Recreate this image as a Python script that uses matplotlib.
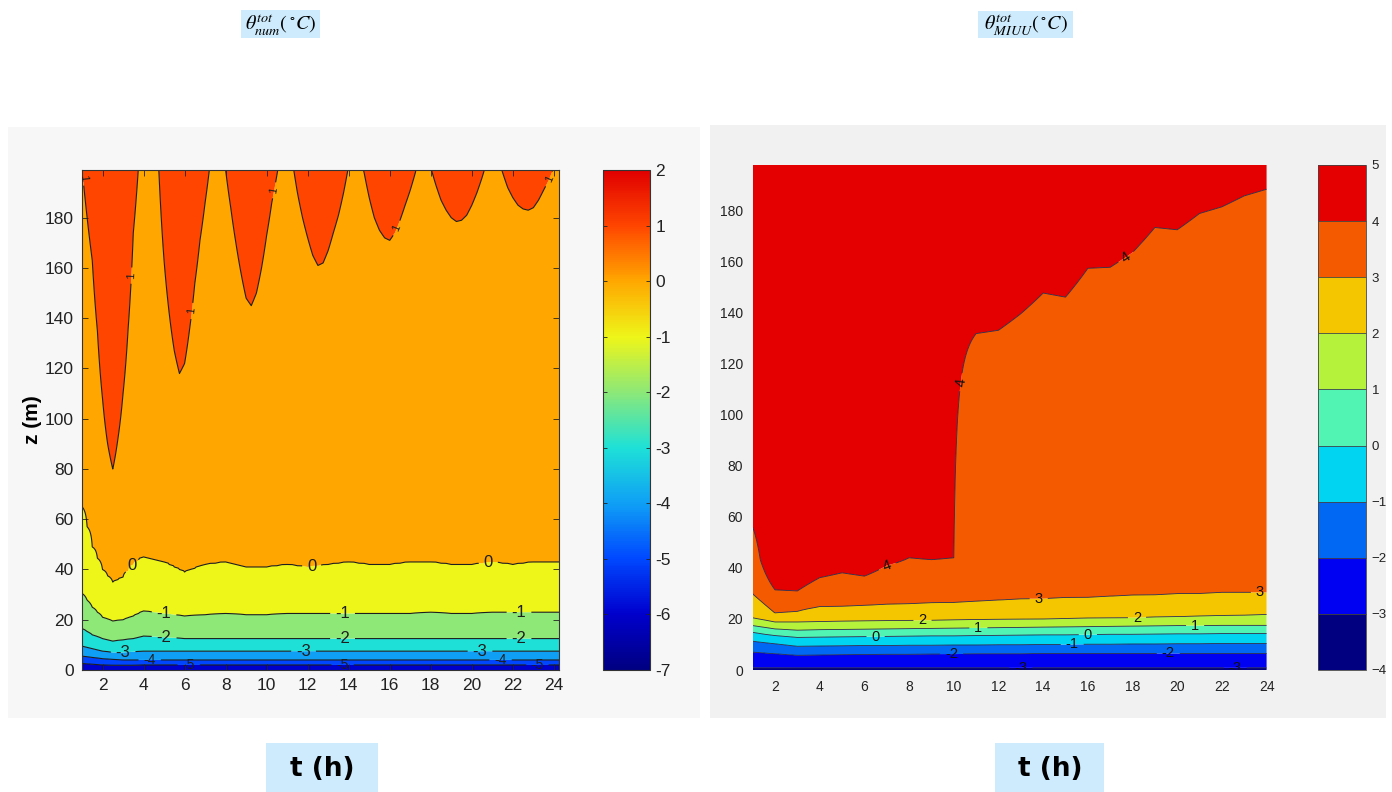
import numpy as np
import matplotlib
matplotlib.use('Agg')
import matplotlib.pyplot as plt
from matplotlib.colors import LinearSegmentedColormap, Normalize, BoundaryNorm, ListedColormap
from matplotlib.patches import Rectangle
import matplotlib.cm as cm

# ---------------- data: left panel (numerical model) ----------------
# height (m) of the +1 degC isotherm, every 0.25 h from t = 1 h (values > 199 lie above the plot)
num_z_p1 = [200, 180, 163, 135, 108, 90, 80, 92, 110, 136, 174, 200,
            225, 235, 225, 198, 163, 142, 127, 118, 122, 136, 154, 171,
            186, 202, 220, 215, 199, 184, 170, 158, 148, 145, 150, 160,
            173, 186, 197, 210, 215, 203, 190, 180, 172, 165, 161, 162,
            167, 174, 181, 190, 201, 212, 206, 198, 188, 180, 175, 172,
            171, 174, 179, 185, 191, 198, 208, 210, 200, 193, 187, 183,
            180, 178.5, 179, 181, 185, 190, 196, 203, 210, 205, 198, 192,
            188, 185, 183.5, 183, 184, 187, 191, 195, 200, 205]
# times (h) at which the lower isotherms were read
num_t = [1, 1.5, 2, 2.5, 3, 3.5, 4, 5, 6, 7, 8, 9, 10, 11, 12, 13, 14, 15,
         16, 17, 18, 19, 20, 21, 22, 23, 24]
num_z_0 = [65, 49, 40, 35, 37, 42, 45, 43, 39, 42, 43, 41, 41, 42, 41, 42, 43,
           42, 42, 43, 43, 42, 42, 43, 42, 43, 43]
num_z_m1 = [30.5, 25, 21, 19.5, 20, 21.5, 23.5, 22.5, 21.5, 22, 22.5, 22, 22,
            22.5, 22.5, 22.5, 22.5, 22.5, 22.5, 22.5, 23, 22.5, 22.5, 23, 23, 23, 23]
num_z_m2 = [16.5, 14, 12.5, 11.5, 12, 12.5, 13.5, 13, 12.5, 12.5, 12.5, 12.5,
            12.5, 12.5, 12.5, 12.5, 12.5, 12.5, 12.5, 12.5, 12.5, 12.5, 12.5,
            12.5, 12.5, 12.5, 12.5]
num_z_m3 = [9.5, 8.5, 7.5, 7, 7, 7.2, 7.5, 7.5, 7.5, 7.5, 7.5, 7.5, 7.5, 7.5,
            7.5, 7.5, 7.5, 7.5, 7.5, 7.5, 7.5, 7.5, 7.5, 7.5, 7.5, 7.5, 7.5]
num_z_m4 = [5.5, 5, 4.5, 4.2, 4, 4, 4, 4, 4, 4, 4, 4, 4, 4, 4, 4, 4, 4, 4, 4,
            4, 4, 4, 4, 4, 4, 4]
num_z_m5 = [2.6, 2.3, 2, 1.9, 1.9, 1.9, 2, 2, 2, 2, 2, 2, 2, 2, 2, 2, 2, 2, 2,
            2, 2, 2, 2, 2, 2, 2, 2]
num_bottom = -5.8
num_levels = [-7, -6, -5, -4, -3, -2, -1, 0, 1, 2]
num_cb_ticks = [2, 1, 0, -1, -2, -3, -4, -5, -6, -7]

# ---------------- data: right panel (MIUU model), hourly ----------------
miuu_t = list(range(1, 25))
miuu_z4 = [56, 31.4, 31, 36.2, 38.1, 36.8, 41, 44, 43.3, 44, 131.9, 133.2,
           139.7, 147.8, 146.2, 157.5, 157.9, 163.7, 173.5, 172.6, 179, 181.6,
           185.9, 188.5]
miuu_rise = [0.08, 0.08, 0.08, 0.08, 0.08, 0.08, 0.08, 0.08, 0.08, 0.0012,
             0.0095, 0.0094, 0.0089, 0.0083, 0.0085, 0.0078, 0.0077, 0.0074,
             0.0069, 0.0070, 0.0067, 0.0066, 0.0064, 0.0063]
miuu_z3 = [29.8, 22.3, 23, 24.8, 25, 25.3, 25.7, 26, 26.3, 26.5, 26.9, 27.2,
           27.6, 27.9, 28.2, 28.5, 28.8, 29.1, 29.4, 29.7, 30, 30.2, 30.2, 30.2]
miuu_z2 = [20.4, 18.8, 18.8, 19, 19.1, 19.2, 19.3, 19.4, 19.5, 19.6, 19.7,
           19.8, 19.9, 20, 20.1, 20.3, 20.4, 20.5, 20.7, 20.9, 21.1, 21.3,
           21.5, 21.7]
miuu_z1 = [17.4, 16.1, 15.6, 15.8, 15.9, 16, 16.1, 16.2, 16.3, 16.4, 16.5,
           16.6, 16.7, 16.8, 16.9, 17, 17.1, 17.2, 17.3, 17.4, 17.4, 17.5,
           17.5, 17.5]
miuu_z0 = [14.8, 13.5, 12.8, 12.9, 13, 13.1, 13.2, 13.3, 13.4, 13.4, 13.5,
           13.6, 13.7, 13.8, 13.8, 13.9, 14, 14, 14.1, 14.2, 14.2, 14.3, 14.3, 14.3]
miuu_zm1 = [11.3, 10.3, 9.3, 9.4, 9.5, 9.6, 9.6, 9.7, 9.7, 9.8, 9.8, 9.9,
            9.9, 10, 10, 10.1, 10.1, 10.2, 10.2, 10.3, 10.3, 10.4, 10.4, 10.4]
miuu_zm2 = [7, 6.4, 5.8, 5.9, 6, 6.1, 6.2, 6.2, 6.3, 6.3, 6.4, 6.4, 6.4, 6.5,
            6.5, 6.5, 6.5, 6.5, 6.5, 6.5, 6.5, 6.5, 6.5, 6.5]
miuu_zm3 = [0.8, 0.8, 0.8, 0.8, 0.8, 0.8, 0.8, 0.8, 0.8, 0.8, 0.8, 0.8, 0.8,
            0.8, 0.8, 0.8, 0.8, 0.8, 0.8, 0.8, 0.8, 0.8, 0.8, 0.8]
miuu_bottom = -3.2
miuu_levels = [-4, -3, -2, -1, 0, 1, 2, 3, 4, 5]
miuu_colors = ['#000080', '#0000F2', '#0068F2', '#00D4F0', '#52F4B4',
               '#B4F23C', '#F4C600', '#F45A00', '#E40000']

# ---------------- figure ----------------
W, H = 1392, 792
plt.rcParams['font.family'] = ['Liberation Sans', 'DejaVu Sans']
plt.rcParams['mathtext.fontset'] = 'stix'
fig = plt.figure(figsize=(W / 100, H / 100), dpi=100)
fig.patch.set_facecolor('white')


def box(x0, y0, x1, y1):
    return [x0 / W, 1 - y1 / H, (x1 - x0) / W, (y1 - y0) / H]


def rect(x0, y0, x1, y1, color, z=-10):
    b = box(x0, y0, x1, y1)
    fig.add_artist(Rectangle((b[0], b[1]), b[2], b[3], transform=fig.transFigure,
                             facecolor=color, edgecolor='none', zorder=z))


rect(8, 127, 700, 718, '#F7F7F7')
rect(710, 125, 1386, 718, '#F1F1F1')

# ---- left colormap (continuous, jet-like as in the picture)
anchor_vals = [-7, -6, -5, -4, -3, -2, -1, 0, 1, 2]
anchor_cols = [(0, 0, 130), (0, 0, 205), (0, 72, 255), (15, 160, 245),
               (30, 225, 215), (140, 232, 120), (238, 245, 25), (255, 168, 0),
               (255, 70, 0), (225, 0, 0)]
cmap_num = LinearSegmentedColormap.from_list(
    'numjet', [((v + 7) / 9, tuple(c / 255 for c in col)) for v, col in zip(anchor_vals, anchor_cols)])
norm_num = Normalize(-7, 2)

# ---- left field
t_fine = 1 + 0.25 * np.arange(len(num_z_p1))
z_l = np.linspace(0, 199, 399)
F = np.empty((len(z_l), len(t_fine)))
for j, t in enumerate(t_fine):
    zs = [0] + [float(np.interp(t, num_t, a)) for a in
                (num_z_m5, num_z_m4, num_z_m3, num_z_m2, num_z_m1, num_z_0)] + [num_z_p1[j]]
    vs = [num_bottom, -5, -4, -3, -2, -1, 0, 1]
    slope = 1.0 / (zs[-1] - zs[-2])
    zs.append(zs[-1] + 400)
    vs.append(1 + 400 * slope)
    F[:, j] = np.clip(np.interp(z_l, zs, vs), None, 1.95)
T, Z = np.meshgrid(t_fine, z_l)

axL = fig.add_axes(box(82, 170, 559, 670))
band_cols = [cmap_num(norm_num(l)) for l in num_levels[:-1]]
axL.contourf(T, Z, F, levels=num_levels, colors=band_cols, antialiased=True)
lab_num = {
    0: ([(3.4, 42), (12.2, 41), (20.8, 43)], 12, True),
    -1: ([(5.0, 22.5), (13.7, 22.5), (22.3, 22.5)], 12, True),
    -2: ([(5.0, 12.5), (13.7, 12.5), (22.3, 12.5)], 12, True),
    -3: ([(3.0, 7.5), (11.8, 7.5), (20.4, 7.5)], 12, True),
    -4: ([(4.3, 4), (21.4, 4)], 10, True),
    -5: ([(6.2, 2), (13.7, 2), (23.2, 2)], 10, True),
    1: ([(1.05, 196), (3.35, 157), (6.25, 143), (10.3, 191), (16.3, 176),
         (23.6, 196)], 8, False),
}
for lv, (pos, fsz, upright) in lab_num.items():
    cs = axL.contour(T, Z, F, levels=[lv], colors='#1e1e1e', linewidths=0.8,
                     linestyles='solid')
    try:
        txts = axL.clabel(cs, manual=pos, inline=True, fontsize=fsz, fmt='%d')
        if upright:
            for tx in txts:
                tx.set_rotation(0)
    except Exception:
        pass
axL.set_xlim(1, 24.25)
axL.set_ylim(0, 199)
axL.set_xticks(range(2, 25, 2))
axL.set_yticks(range(0, 181, 20))
axL.tick_params(direction='in', length=4, width=0.6, top=True, right=True,
                labelsize=12.5, pad=6, colors='#222222')
for s in axL.spines.values():
    s.set_linewidth(0.8)
    s.set_color('#333333')

caxL = fig.add_axes(box(603, 170, 650, 670))
cbL = fig.colorbar(cm.ScalarMappable(norm=norm_num, cmap=cmap_num), cax=caxL)
cbL.set_ticks(num_cb_ticks)
cbL.set_ticklabels(['%d' % v for v in num_cb_ticks])
caxL.tick_params(direction='in', length=3, width=0.6, left=True, right=True,
                 labelsize=12.5, pad=4, colors='#222222')
cbL.outline.set_linewidth(0.8)
cbL.outline.set_edgecolor('#333333')

fig.text(32 / W, 1 - 420 / H, 'z (m)', rotation=90, ha='center', va='center',
         fontsize=15, fontweight='bold')

# ---- right field
z_r = np.linspace(0, 198, 397)
G = np.empty((len(z_r), len(miuu_t)))
for j in range(len(miuu_t)):
    zs = [0, miuu_zm3[j], miuu_zm2[j], miuu_zm1[j], miuu_z0[j], miuu_z1[j],
          miuu_z2[j], miuu_z3[j], miuu_z4[j], miuu_z4[j] + 400]
    vs = [miuu_bottom, -3, -2, -1, 0, 1, 2, 3, 4, 4 + 400 * miuu_rise[j]]
    G[:, j] = np.clip(np.interp(z_r, zs, vs), None, 4.95)
TR, ZR = np.meshgrid(miuu_t, z_r)

axR = fig.add_axes(box(752.7, 165, 1266.6, 670))
axR.contourf(TR, ZR, G, levels=miuu_levels, colors=miuu_colors, antialiased=True)
lab_miuu = {
    4: ([(7.0, 41.5), (10.2, 113), (17.7, 162)], False),
    3: ([(13.8, 28), (23.7, 30.2)], True),
    2: ([(8.6, 19.5), (18.2, 20.5)], True),
    1: ([(11.1, 16.5), (20.8, 17.4)], True),
    0: ([(6.5, 13.2), (16.0, 13.9)], True),
    -1: ([(15.3, 10.0)], True),
    -2: ([(9.9, 6.3), (19.6, 6.5)], True),
    -3: ([(13.0, 0.8), (22.6, 0.8)], True),
}
for lv, (pos, upright) in lab_miuu.items():
    cs = axR.contour(TR, ZR, G, levels=[lv], colors='#2a2a48', linewidths=0.6,
                     linestyles='solid')
    try:
        txts = axR.clabel(cs, manual=pos, inline=True, fontsize=10.5, fmt='%d',
                          colors='#111111')
        if upright:
            for tx in txts:
                tx.set_rotation(0)
    except Exception:
        pass
axR.set_xlim(1, 24)
axR.set_ylim(0, 198)
axR.set_xticks(range(2, 25, 2))
axR.set_yticks(range(0, 181, 20))
axR.tick_params(length=0, labelsize=10, pad=7, colors='#222222')
for s in axR.spines.values():
    s.set_visible(False)

caxR = fig.add_axes(box(1318, 165, 1366, 670))
cbR = fig.colorbar(cm.ScalarMappable(norm=BoundaryNorm(miuu_levels, len(miuu_colors)),
                                     cmap=ListedColormap(miuu_colors)),
                   cax=caxR, drawedges=True)
cbR.set_ticks(miuu_levels)
cbR.set_ticklabels([('%d' % v).replace('-', '\u2212') for v in miuu_levels])
caxR.tick_params(length=0, labelsize=9.5, pad=4, colors='#222222')
cbR.outline.set_linewidth(0.6)
cbR.outline.set_edgecolor('#444444')
cbR.dividers.set_color('#444444')
cbR.dividers.set_linewidth(0.6)

# ---- title and axis-label boxes
rect(241, 10, 320, 38, '#CDEBFC', z=1)
rect(978, 11, 1073, 38, '#CDEBFC', z=1)
fig.text(280.5 / W, 1 - 24 / H, r'$\theta_{num}^{tot}(\,^{\circ}C)$', ha='center',
         va='center', fontsize=14.5, zorder=2)
fig.text(1025.5 / W, 1 - 24 / H, r'$\theta_{MIUU}^{tot}(\,^{\circ}C)$', ha='center',
         va='center', fontsize=14.5, zorder=2)

rect(266, 743, 378, 792, '#CDEBFC', z=1)
rect(995, 743, 1104, 792, '#CDEBFC', z=1)
fig.text(322 / W, 1 - 769 / H, 't (h)', ha='center', va='center', fontsize=19,
         fontweight='bold', family='DejaVu Sans', zorder=2)
fig.text(1050 / W, 1 - 769 / H, 't (h)', ha='center', va='center', fontsize=19,
         fontweight='bold', family='DejaVu Sans', zorder=2)

fig.savefig('out.png', dpi=100)
